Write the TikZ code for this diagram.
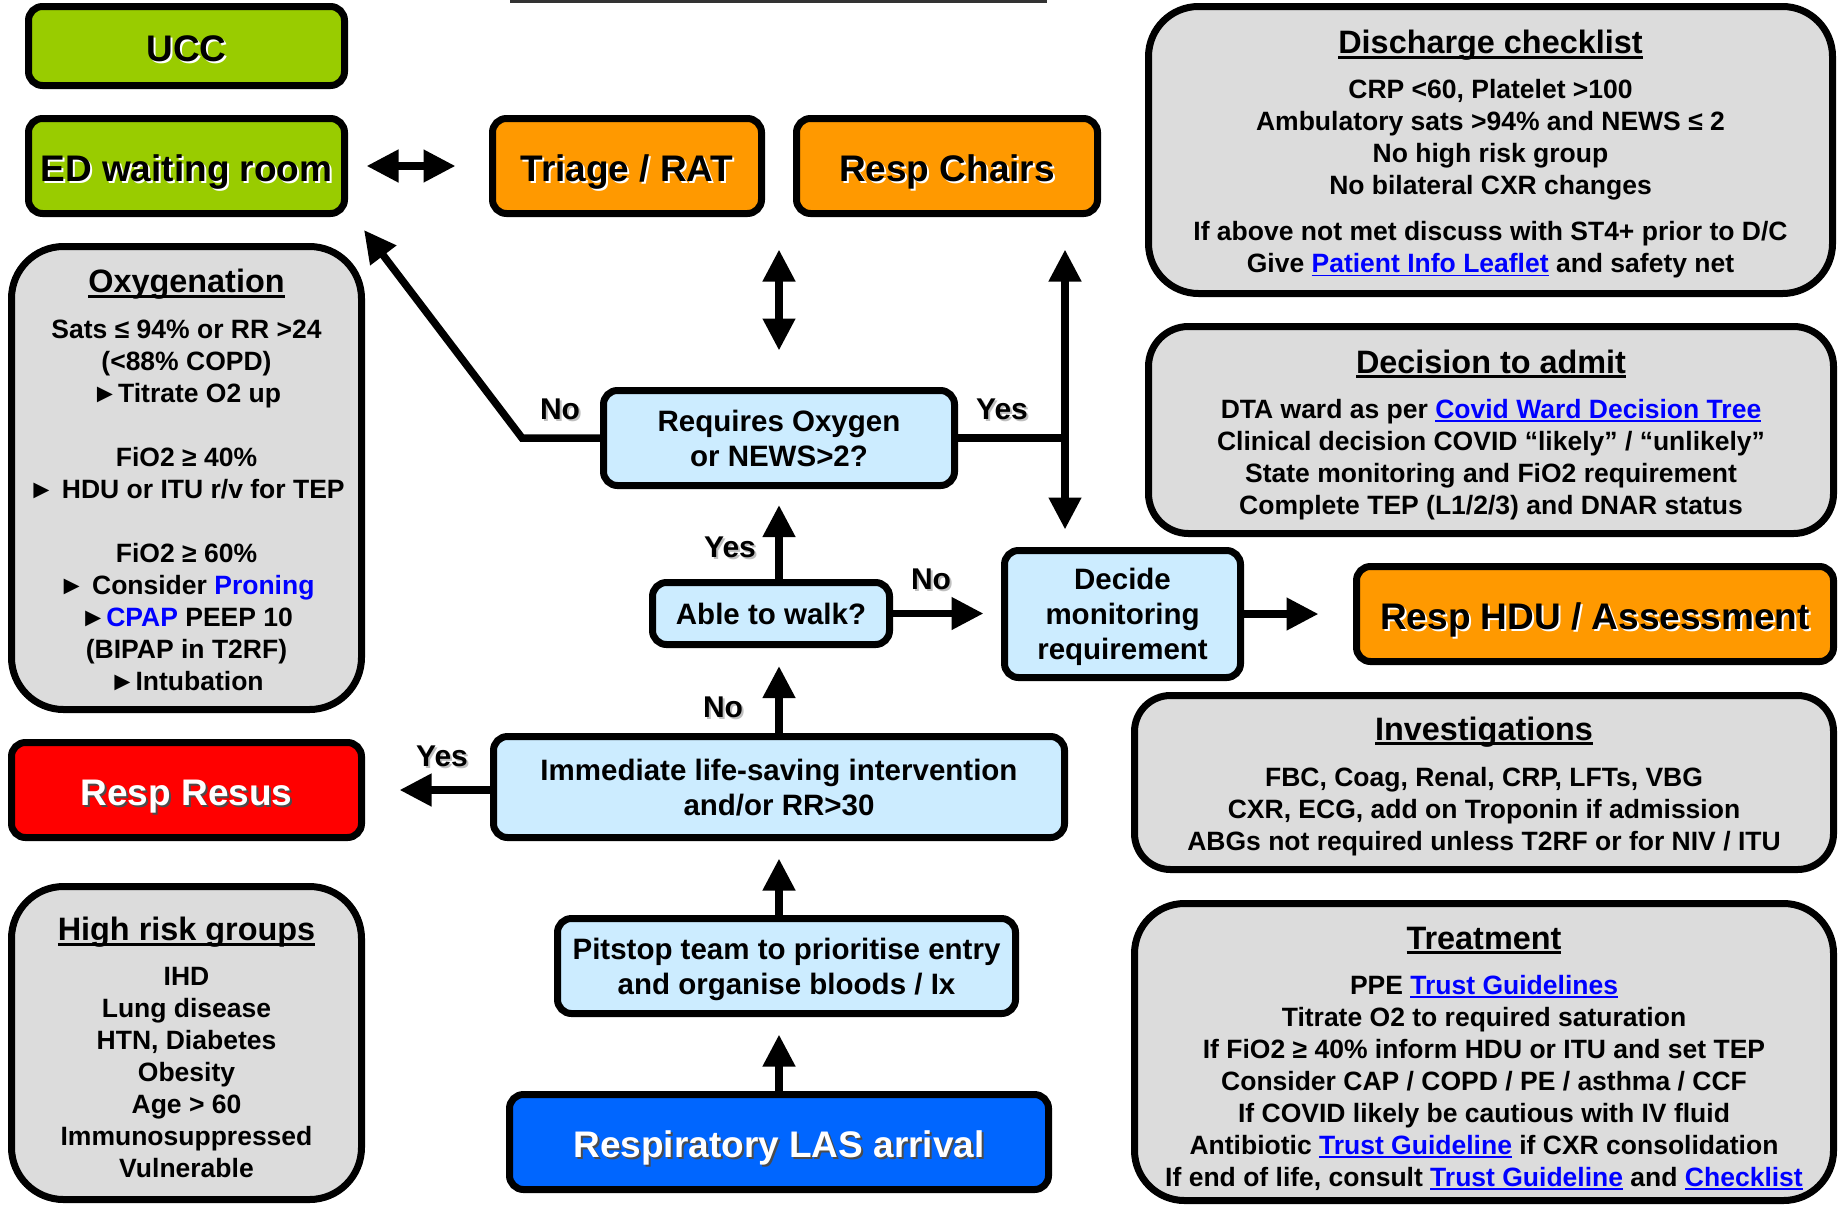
\documentclass[tikz,border=0pt]{standalone}
\usepackage{fontspec}
\setmainfont{Liberation Sans}
\usetikzlibrary{arrows.meta}
\definecolor{ggreen}{HTML}{99CC00}
\definecolor{gorange}{HTML}{FF9900}
\definecolor{gred}{HTML}{FF0000}
\definecolor{gblue}{HTML}{0066FF}
\definecolor{lblue}{HTML}{CCECFF}
\definecolor{igray}{HTML}{DCDCDC}
\definecolor{lnkblue}{HTML}{0000FF}
\newcommand\titf{\fontsize{18.5pt}{22pt}\selectfont\bfseries}
\newcommand\flowf{\fontsize{14.75pt}{17.5pt}\selectfont\bfseries}
\newcommand\bodyf{\fontsize{13.25pt}{16pt}\selectfont\bfseries}
\newcommand\hdrf{\fontsize{16.2pt}{19pt}\selectfont\bfseries}
\newcommand\labf{\fontsize{15pt}{18pt}\selectfont\bfseries}
\newcommand\txtshadow[2]{\leavevmode\rlap{\kern1pt\raisebox{-1pt}{\textcolor{#1}{#2}}}#2}
\newcommand\myhdr[1]{\setbox0\hbox{#1}\rlap{\rule[-2.4pt]{\wd0}{1.4pt}}\box0}
\newcommand\mylnk[1]{\textcolor{lnkblue}{\setbox0\hbox{#1}\rlap{\rule[-1.8pt]{\wd0}{0.9pt}}\box0}}
\begin{document}
\begin{tikzpicture}[x=0.5pt,y=-0.5pt,
  bx/.style={draw=black, line width=3.5pt, rounded corners=7pt, align=center, inner sep=0pt},
  titlebox/.style={bx, font=\titf, text height=15.5pt, text depth=0pt},
  flowbox/.style={bx, fill=lblue, font=\flowf, text depth=0pt},
  infobox/.style={draw=black, line width=3.5pt, fill=igray, rounded corners=25pt, inner sep=0pt},
  hd/.style={font=\hdrf, inner sep=0pt},
  bd/.style={font=\bodyf, align=center, inner sep=0pt},
  lab/.style={font=\labf, inner sep=0pt},
  conn/.style={line width=3.75pt},
  arr/.style={conn, -{Triangle[width=15.5pt,length=16pt]}},
  dblarr/.style={conn, {Triangle[width=15.5pt,length=16pt]}-{Triangle[width=15.5pt,length=16pt]}}
]
\useasboundingbox (0,0) rectangle (1839,1205);
\fill[black!80] (510,0) rectangle (1047,3.3);

% title boxes
\node[titlebox, fill=ggreen, minimum width=158pt, minimum height=39.5pt] (ucc) at (186.5,46) {\txtshadow{white}{UCC}};
\node[titlebox, fill=ggreen, minimum width=158pt, minimum height=47.5pt] (ed) at (186.5,166) {\txtshadow{white}{ED waiting room}};
\node[titlebox, fill=gorange, minimum width=134.5pt, minimum height=47.5pt] (triage) at (627,166) {\txtshadow{white}{Triage / RAT}};
\node[titlebox, fill=gorange, minimum width=150.5pt, minimum height=47.5pt] (chairs) at (947,166) {\txtshadow{white}{Resp Chairs}};
\node[titlebox, fill=gorange, minimum width=238.5pt, minimum height=47.5pt] (hdu) at (1595,614) {\txtshadow{white}{Resp HDU / Assessment}};
\node[titlebox, fill=gred, text=white, minimum width=175pt, minimum height=47.5pt] (resus) at (186.5,790) {\txtshadow{black!70}{Resp Resus}};
\node[titlebox, fill=gblue, text=white, minimum width=269.5pt, minimum height=47.5pt] (las) at (779,1142) {\txtshadow{black!70}{Respiratory LAS arrival}};

% flow boxes
\node[flowbox, minimum width=175.5pt, minimum height=47.5pt] (req) at (779,438) {Requires Oxygen\\or NEWS>2?};
\node[flowbox, minimum width=118pt, minimum height=63.5pt] (decide) at (1122.5,614) {Decide\\monitoring\\requirement};
\node[flowbox, minimum width=118.5pt, minimum height=31pt] (able) at (771,613.5) {Able to walk?};
\node[flowbox, minimum width=285.5pt, minimum height=50.5pt] (imm) at (779,787) {Immediate life-saving intervention\\and/or RR>30};
\node[flowbox, minimum width=229pt, minimum height=47.5pt] (pit) at (786.5,966) {Pitstop team to prioritise entry\\and organise bloods / Ix};

% info boxes
\node[infobox, minimum width=342pt, minimum height=143.5pt] (dis) at (1490.5,150) {};
\node[hd] (disH) at (1490.5,45.5) {\myhdr{Discharge checklist}};
\node[bd] (disB) at (1490.5,179) {CRP <60, Platelet >100\\Ambulatory sats >94\% and NEWS ≤ 2\\No high risk group\\No bilateral CXR changes\\[7pt]If above not met discuss with ST4+ prior to D/C\\Give \mylnk{Patient Info Leaflet} and safety net};

\node[infobox, rounded corners=26pt, minimum width=175pt, minimum height=231.5pt] (oxy) at (186.5,478) {};
\node[hd] (oxyH) at (186.5,284.5) {\myhdr{Oxygenation}};
\node[bd] (oxyB) at (186.5,505) {Sats ≤ 94\% or RR >24\\(<88\% COPD)\\►Titrate O2 up\\[16pt]FiO2 ≥ 40\%\\► HDU or ITU r/v for TEP\\[16pt]FiO2 ≥ 60\%\\► Consider \textcolor{lnkblue}{Proning}\\►\textcolor{lnkblue}{CPAP} PEEP 10\\(BIPAP in T2RF)\\►Intubation};

\node[infobox, rounded corners=20pt, minimum width=342.5pt, minimum height=103.5pt] (dta) at (1491,430) {};
\node[hd] (dtaH) at (1491,364) {\myhdr{Decision to admit}};
\node[bd] (dtaB) at (1491,459.5) {DTA ward as per \mylnk{Covid Ward Decision Tree}\\Clinical decision COVID “likely” / “unlikely”\\State monitoring and FiO2 requirement\\Complete TEP (L1/2/3) and DNAR status};

\node[infobox, rounded corners=18pt, minimum width=349.5pt, minimum height=87pt] (inv) at (1484,782.5) {};
\node[hd] (invH) at (1484,732) {\myhdr{Investigations}};
\node[bd] (invB) at (1484,811.5) {FBC, Coag, Renal, CRP, LFTs, VBG\\CXR, ECG, add on Troponin if admission\\ABGs not required unless T2RF or for NIV / ITU};

\node[infobox, minimum width=349.5pt, minimum height=148.5pt] (treat) at (1484,1052) {};
\node[hd] (treatH) at (1484,940.5) {\myhdr{Treatment}};
\node[bd] (treatB) at (1484,1083) {PPE \mylnk{Trust Guidelines}\\Titrate O2 to required saturation\\If FiO2 ≥ 40\% inform HDU or ITU and set TEP\\Consider CAP / COPD / PE / asthma / CCF\\If COVID likely be cautious with IV fluid\\Antibiotic \mylnk{Trust Guideline} if CXR consolidation\\If end of life, consult \mylnk{Trust Guideline} and \mylnk{Checklist}};

\node[infobox, rounded corners=26pt, minimum width=175pt, minimum height=156.5pt] (risk) at (186.5,1043) {};
\node[hd] (riskH) at (186.5,932.5) {\myhdr{High risk groups}};
\node[bd] (riskB) at (186.5,1072.5) {IHD\\Lung disease\\HTN, Diabetes\\Obesity\\Age > 60\\Immunosuppressed\\Vulnerable};

% connectors
\coordinate (noC) at (522,438);
\coordinate (noTip) at (364,230);
\coordinate (yesC) at (1065,438);
\draw[arr, shorten >=8.75pt] (las.north) -- (las.north |- pit.south);
\draw[arr, shorten >=8.75pt] (pit.north -| imm.south) -- (imm.south);
\draw[arr, shorten >=9pt] (imm.north) -- (imm.north |- able.south);
\draw[arr, shorten >=8pt] (able.north -| req.south) -- (req.south);
\draw[arr, shorten >=8.75pt] (able.east) -- (able.east -| decide.west);
\draw[arr, shorten >=17.25pt] (decide.east) -- (decide.east -| hdu.west);
\draw[arr, shorten >=17.25pt] (resus.east -| imm.west) -- (resus.east);
\draw[dblarr, shorten <=9.25pt, shorten >=16.75pt] (ed.east) -- (ed.east -| triage.west);
\draw[dblarr, shorten <=16.25pt, shorten >=18.25pt] (req.north |- triage.south) -- (req.north);
\draw[arr] (req.west) -- (noC) -- (noTip);
\draw[conn] (req.east) -- (yesC);
\draw[dblarr, shorten <=16.25pt, shorten >=8.75pt] (yesC |- chairs.south) -- (yesC |- decide.north);

% labels
\node[lab] (lNo1) at (560,410) {\txtshadow{gray!50}{No}};
\node[lab] (lYes1) at (1002,410) {\txtshadow{gray!50}{Yes}};
\node[lab] (lYes2) at (730,548) {\txtshadow{gray!50}{Yes}};
\node[lab] (lNo2) at (931,580) {\txtshadow{gray!50}{No}};
\node[lab] (lNo3) at (723,708) {\txtshadow{gray!50}{No}};
\node[lab] (lYes3) at (442,757) {\txtshadow{gray!50}{Yes}};
\end{tikzpicture}
\end{document}
